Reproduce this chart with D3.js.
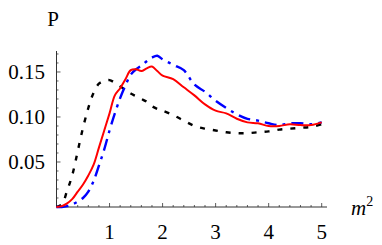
<!DOCTYPE html>
<html>
<head>
<meta charset="utf-8">
<script src="https://cdn.jsdelivr.net/npm/d3@7"></script>
<style>
  body { margin: 0; background: #fff; }
</style>
</head>
<body>
<svg id="chart" width="382" height="245"></svg>
<script>
// m^2 grid shared by all three curves
const mSq = [0, 0.1, 0.2, 0.3, 0.4, 0.5, 0.6, 0.7, 0.8, 0.9, 1.0, 1.1, 1.2, 1.3, 1.4, 1.5, 1.6, 1.7, 1.8, 1.9,
             2.0, 2.2, 2.4, 2.6, 2.8, 3.0, 3.2, 3.4, 3.6, 3.8, 4.0, 4.2, 4.4, 4.6, 4.8, 5.0];

const pBlack = [0, 0.003, 0.018, 0.036, 0.062, 0.088, 0.110, 0.127, 0.137, 0.140, 0.141, 0.138, 0.134, 0.130, 0.126, 0.123, 0.120, 0.117, 0.112, 0.109,
                0.107, 0.102, 0.096, 0.090, 0.087, 0.085, 0.083, 0.082, 0.082, 0.083, 0.084, 0.086, 0.087, 0.088, 0.089, 0.092];

const pRed = [0, 0.001, 0.004, 0.009, 0.017, 0.025, 0.035, 0.047, 0.066, 0.085, 0.104, 0.124, 0.132, 0.142, 0.152, 0.153, 0.151, 0.154, 0.156, 0.151,
              0.146, 0.142, 0.133, 0.124, 0.114, 0.107, 0.104, 0.098, 0.094, 0.093, 0.090, 0.090, 0.092, 0.091, 0.091, 0.094];

const pBlue = [0, 0.0, 0.001, 0.003, 0.006, 0.010, 0.017, 0.029, 0.046, 0.064, 0.085, 0.104, 0.121, 0.135, 0.147, 0.153, 0.157, 0.162, 0.166, 0.168,
               0.164, 0.158, 0.152, 0.136, 0.128, 0.118, 0.110, 0.103, 0.098, 0.096, 0.093, 0.091, 0.093, 0.093, 0.092, 0.094];

const xTicks = [1, 2, 3, 4, 5];
const yTicks = [0.05, 0.10, 0.15];

const serif = "Liberation Serif";

const svg = d3.select("#chart");

// plot area
const plotLeft = 56.5, plotRight = 327, plotTop = 51, plotBottom = 207;

const x = d3.scaleLinear().domain([0, 5.1]).range([plotLeft, plotRight]);
const y = d3.scaleLinear().domain([0, 0.1733]).range([plotBottom, plotTop]);

// axis lines
svg.append("line").attr("x1", plotLeft).attr("x2", plotRight).attr("y1", plotBottom).attr("y2", plotBottom)
    .attr("stroke", "#333").attr("stroke-width", 1);
svg.append("line").attr("x1", plotLeft).attr("x2", plotLeft).attr("y1", plotBottom).attr("y2", plotTop)
    .attr("stroke", "#333").attr("stroke-width", 1);

// x ticks (minor every 0.2, pointing up)
const xMinor = d3.range(0.2, 5.05, 0.2);
svg.append("g").selectAll("line").data(xMinor).enter().append("line")
    .attr("x1", d => x(d)).attr("x2", d => x(d))
    .attr("y1", plotBottom).attr("y2", d => Math.abs(d - Math.round(d)) < 1e-6 ? plotBottom - 4 : plotBottom - 2)
    .attr("stroke", "#333").attr("stroke-width", 0.8);

svg.append("g").selectAll("text").data(xTicks).enter().append("text")
    .attr("x", d => x(d)).attr("y", 239)
    .attr("text-anchor", "middle")
    .attr("font-family", serif).attr("font-size", 21)
    .text(d => d);

// y ticks (minor every 0.01, pointing right)
const yMinor = d3.range(0.01, 0.1705, 0.01);
svg.append("g").selectAll("line").data(yMinor).enter().append("line")
    .attr("x1", plotLeft).attr("x2", (d, i) => (i + 1) % 5 === 0 ? plotLeft + 4 : plotLeft + 2)
    .attr("y1", d => y(d)).attr("y2", d => y(d))
    .attr("stroke", "#333").attr("stroke-width", 0.8);

svg.append("g").selectAll("text").data(yTicks).enter().append("text")
    .attr("x", 45).attr("y", d => y(d) + 7)
    .attr("text-anchor", "end")
    .attr("font-family", serif).attr("font-size", 21)
    .text(d => d3.format(".2f")(d));

// axis labels
svg.append("text").attr("x", 53).attr("y", 26).attr("text-anchor", "middle")
    .attr("font-family", serif).attr("font-size", 21).text("P");

const mLab = svg.append("text").attr("x", 351).attr("y", 215)
    .attr("font-family", serif).attr("font-size", 21);
mLab.append("tspan").attr("font-style", "italic").text("m");
mLab.append("tspan").attr("dy", -9).attr("font-size", 14).text("2");

// curves
const line = d3.line()
    .x(d => x(d[0]))
    .y(d => y(d[1]))
    .curve(d3.curveCatmullRom);

const series = [
  { values: pBlack, color: "#000", width: 2.4, dash: "5,8" },
  { values: pBlue, color: "#0000ff", width: 2.4, dash: "12,6,3,6" },
  { values: pRed, color: "#ff0000", width: 2, dash: null }
];

series.forEach(s => {
  svg.append("path")
      .datum(mSq.map((m, i) => [m, s.values[i]]))
      .attr("d", line)
      .attr("fill", "none")
      .attr("stroke", s.color)
      .attr("stroke-width", s.width)
      .attr("stroke-dasharray", s.dash);
});
</script>
</body>
</html>
